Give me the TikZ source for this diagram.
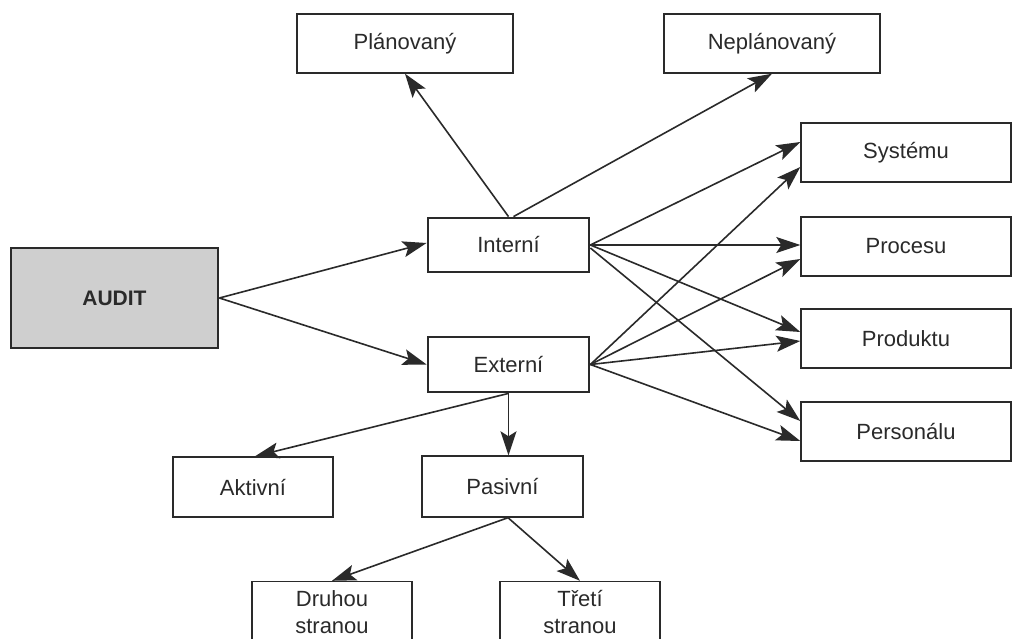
\documentclass[tikz,border=0pt]{standalone}
\usepackage{fontspec}
\setmainfont{Liberation Sans}
\usetikzlibrary{arrows.meta,calc}
\definecolor{ink}{HTML}{2A2A2A}
\definecolor{auditfill}{HTML}{CFCFCF}
\tikzset{
  box/.style={draw=ink, line width=1.4pt, fill=white, inner sep=0pt,
    font=\fontsize{22}{27}\selectfont, text=ink, align=center},
  thickbox/.style={box, line width=2.8pt},
  conn/.style={draw=ink, line width=1.6pt,
    -{Stealth[length=24pt,width=16pt,inset=5pt]}},
}
\begin{document}
\begin{tikzpicture}[x=1pt,y=-1pt]
\useasboundingbox (0,0) rectangle (1013,639);
\clip (0,0) rectangle (1013,639);
\fill[white] (0,0) rectangle (1013,639);
% nodes
\node[thickbox, fill=auditfill, minimum width=207pt, minimum height=100pt,
      font=\fontsize{21}{25}\selectfont\bfseries] (audit) at (114.5,298) {AUDIT};
\node[thickbox, minimum width=161pt, minimum height=54pt] (intern) at (508.5,245) {Interní};
\node[thickbox, minimum width=161pt, minimum height=55pt] (extern) at (508.5,364.5) {Externí};
\node[box, minimum width=216pt, minimum height=59pt] (plan) at (405,43.5) {Plánovaný};
\node[box, minimum width=216pt, minimum height=59pt] (neplan) at (772,43.5) {Neplánovaný};
\node[box, minimum width=210pt, minimum height=59pt] (sys) at (906,152.5) {Systému};
\node[box, minimum width=210pt, minimum height=59pt] (proc) at (906,246.5) {Procesu};
\node[box, minimum width=210pt, minimum height=59pt] (prod) at (906,338.5) {Produktu};
\node[box, minimum width=210pt, minimum height=59pt] (pers) at (906,431.5) {Personálu};
\node[box, minimum width=160pt, minimum height=60pt] (akt) at (253,487) {Aktivní};
\node[box, minimum width=161pt, minimum height=61pt] (pas) at (502.5,486.5) {Pasivní};
\node[box, minimum width=160pt, minimum height=62pt] (druh) at (332,612.5) {Druhou\\stranou};
\node[box, minimum width=160pt, minimum height=62pt] (tret) at (580,612.5) {Třetí\\stranou};
% connectors
\draw[conn] (audit.east) -- ([yshift=2pt]intern.west);
\draw[conn] (audit.east) -- (extern.west);
\draw[conn] (intern.north) -- (plan.south);
\draw[conn] ([xshift=5pt]intern.north) -- (neplan.south);
\draw[conn] (intern.east) -- ([yshift=10.5pt]sys.west);
\draw[conn] (intern.east) -- ([yshift=1.5pt]proc.west);
\draw[conn] (intern.east) -- ([yshift=6.5pt]prod.west);
\draw[conn] ([yshift=-3pt]intern.east) -- ([yshift=10.5pt]pers.west);
\draw[conn] (extern.east) -- ([yshift=-14.5pt]sys.west);
\draw[conn] (extern.east) -- ([yshift=-12.5pt]proc.west);
\draw[conn] (extern.east) -- ([yshift=-2.5pt]prod.west);
\draw[conn] (extern.east) -- ([yshift=-9.5pt]pers.west);
\draw[conn] (extern.south) -- (extern.south |- pas.north);
\draw[conn] (extern.south) -- ([xshift=2pt]akt.north);
\draw[conn] ([xshift=5.5pt]pas.south) -- (druh.north);
\draw[conn] ([xshift=5.5pt]pas.south) -- (tret.north);
\end{tikzpicture}
\end{document}
